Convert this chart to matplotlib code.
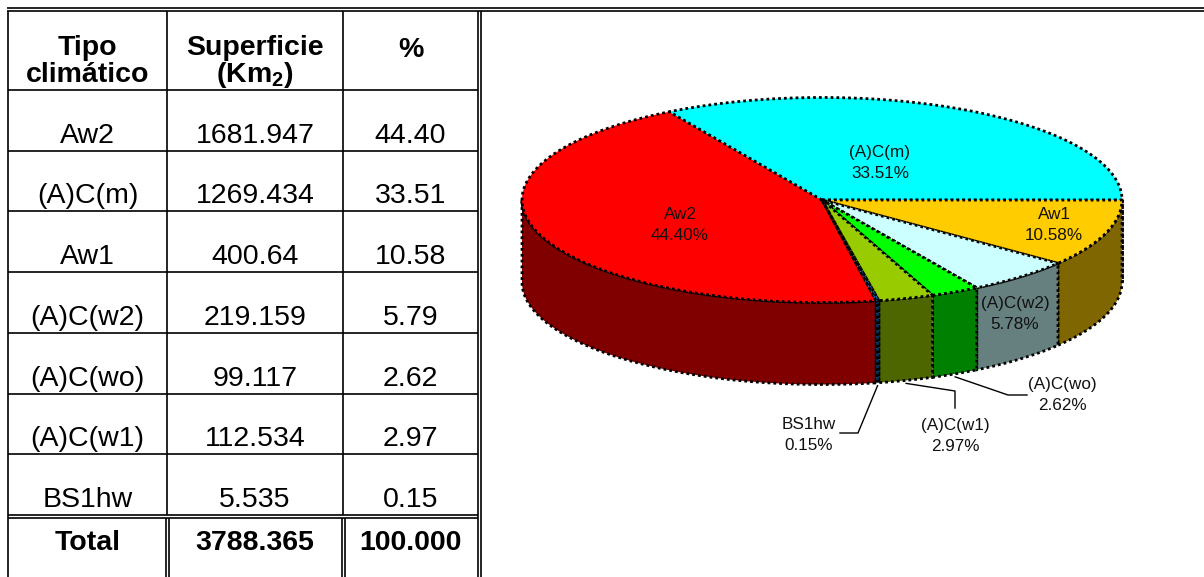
import numpy as np
import matplotlib.pyplot as plt
from matplotlib.patches import Polygon

plt.rcParams['font.family'] = ['Liberation Sans', 'DejaVu Sans']
plt.rcParams['mathtext.fontset'] = 'custom'
plt.rcParams['mathtext.rm'] = 'Liberation Sans'
plt.rcParams['mathtext.bf'] = 'Liberation Sans:bold'

# tabla de superficies por tipo climatico
tipos = ["Aw2", "(A)C(m)", "Aw1", "(A)C(w2)", "(A)C(wo)", "(A)C(w1)", "BS1hw"]
superficie = ["1681.947", "1269.434", "400.64", "219.159", "99.117", "112.534", "5.535"]
porcentaje = ["44.40", "33.51", "10.58", "5.79", "2.62", "2.97", "0.15"]
total_sup = "3788.365"
total_pct = "100.000"

# porcentajes que lleva el pastel
pie_pct = [44.40, 33.51, 10.58, 5.78, 2.62, 2.97, 0.15]
top_colors = ["#FF0000", "#00FFFF", "#FFCC00", "#CCFFFF", "#00FF00", "#99CC00", "#0066CC"]
side_colors = ["#800000", "#008080", "#806600", "#668080", "#008000", "#4D6600", "#003366"]

fig = plt.figure(figsize=(12.04, 5.77), dpi=100)
ax = fig.add_axes([0, 0, 1, 1])
ax.set_xlim(0, 1204)
ax.set_ylim(577, 0)
ax.axis('off')

LW = 1.2


def hline(y, x0, x1):
    ax.plot([x0, x1], [y, y], color='black', lw=LW, solid_capstyle='butt')


def vline(x, y0, y1):
    ax.plot([x, x], [y0, y1], color='black', lw=LW, solid_capstyle='butt')


# ---- tabla ----
col_x = [8, 167, 343, 478]
head_top, head_bot = 11, 90
n = len(tipos)
row_h = 60.7
row_y = [head_bot + row_h * i for i in range(n + 1)]
tot_top = row_y[-1] + 3

hline(8, 7, 1204)
hline(head_top, 7, 1204)
vline(col_x[0], head_top, 577)
for x in col_x[1:3]:
    vline(x, head_top, row_y[-1])
    vline(x - 1.5, tot_top, 577)
    vline(x + 1.5, tot_top, 577)
vline(col_x[3], head_top, 577)
vline(col_x[3] + 3, head_top, 577)
for y in row_y[:-1]:
    hline(y, col_x[0], col_x[3])
hline(row_y[-1], col_x[0], col_x[3])
hline(tot_top, col_x[0], col_x[3])

cx_cols = [(col_x[i] + col_x[i + 1]) / 2 for i in range(3)]
fs = 20.5
ax.text(cx_cols[0], 55, "Tipo", fontsize=fs, weight='bold', ha='center', va='baseline')
ax.text(cx_cols[0], 82, "climático", fontsize=fs, weight='bold', ha='center', va='baseline')
ax.text(cx_cols[1], 55, "Superficie", fontsize=fs, weight='bold', ha='center', va='baseline')
ax.text(cx_cols[1], 82, r"(Km$_\mathbf{2}$)", fontsize=fs, weight='bold', ha='center', va='baseline')
ax.text(cx_cols[2], 57, "%", fontsize=fs, weight='bold', ha='center', va='baseline')

for i in range(n):
    yb = row_y[i + 1] - 8
    for j, s in enumerate([tipos[i], superficie[i], porcentaje[i]]):
        ax.text(cx_cols[j], yb, s, fontsize=fs, ha='center', va='baseline')

for j, s in enumerate(["Total", total_sup, total_pct]):
    ax.text(cx_cols[j], tot_top + 32, s, fontsize=fs, weight='bold', ha='center', va='baseline')

# ---- pastel 3D ----
pcx, pcy, ra, rb, depth = 822, 200, 300, 102.5, 82
start = 280.4
frac = np.array(pie_pct) / sum(pie_pct)
hi = start - 360 * np.concatenate([[0], np.cumsum(frac)[:-1]])
lo = hi - 360 * frac


def rim(t, dy=0.0):
    r = np.radians(t)
    return np.column_stack([pcx + ra * np.cos(r), pcy - rb * np.sin(r) + dy])


dots = (0, (1.0, 1.1))
elw = 2.0

# paredes laterales (solo la mitad frontal)
for i in range(n):
    for k in (-360, 0):
        a = max(lo[i], 180 + k)
        b = min(hi[i], 360 + k)
        if b > a:
            t = np.linspace(a, b, 80)
            pts = np.vstack([rim(t), rim(t[::-1], depth)])
            ax.add_patch(Polygon(pts, closed=True, fc=side_colors[i], ec='black',
                                 lw=elw, ls=dots, zorder=2))

# caras superiores
for i in range(n):
    t = np.linspace(lo[i], hi[i], max(int(hi[i] - lo[i]) * 2, 3))
    pts = np.vstack([[pcx, pcy], rim(t)])
    ax.add_patch(Polygon(pts, closed=True, fc=top_colors[i], ec='black',
                         lw=elw, ls=dots, zorder=3))

# etiquetas
lab_pos = [(680, 225), (880, 163), (1054, 225), (1015, 314),
           (1062, 395), (955, 436), (809, 435)]
for i in range(n):
    x, y = lab_pos[i]
    ax.text(x, y, f"{tipos[i]}\n{pie_pct[i]:.2f}%", fontsize=12.3, ha='center',
            va='center', linespacing=1.45, color='#111111', zorder=5)

# lineas guia de las rebanadas pequenas
leaders = {4: [(1008, 395), (1027, 395)],
           5: [(955, 391), (955, 408)],
           6: [(858, 433), (840, 433)]}
for i, tail in leaders.items():
    mid = (lo[i] + hi[i]) / 2
    p0 = rim(np.array([mid]), depth + 3)[0]
    xs = [p0[0]] + [p[0] for p in tail]
    ys = [p0[1]] + [p[1] for p in tail]
    ax.plot(xs, ys, color='black', lw=1.0, zorder=4)

fig.savefig("out.png", dpi=100)
